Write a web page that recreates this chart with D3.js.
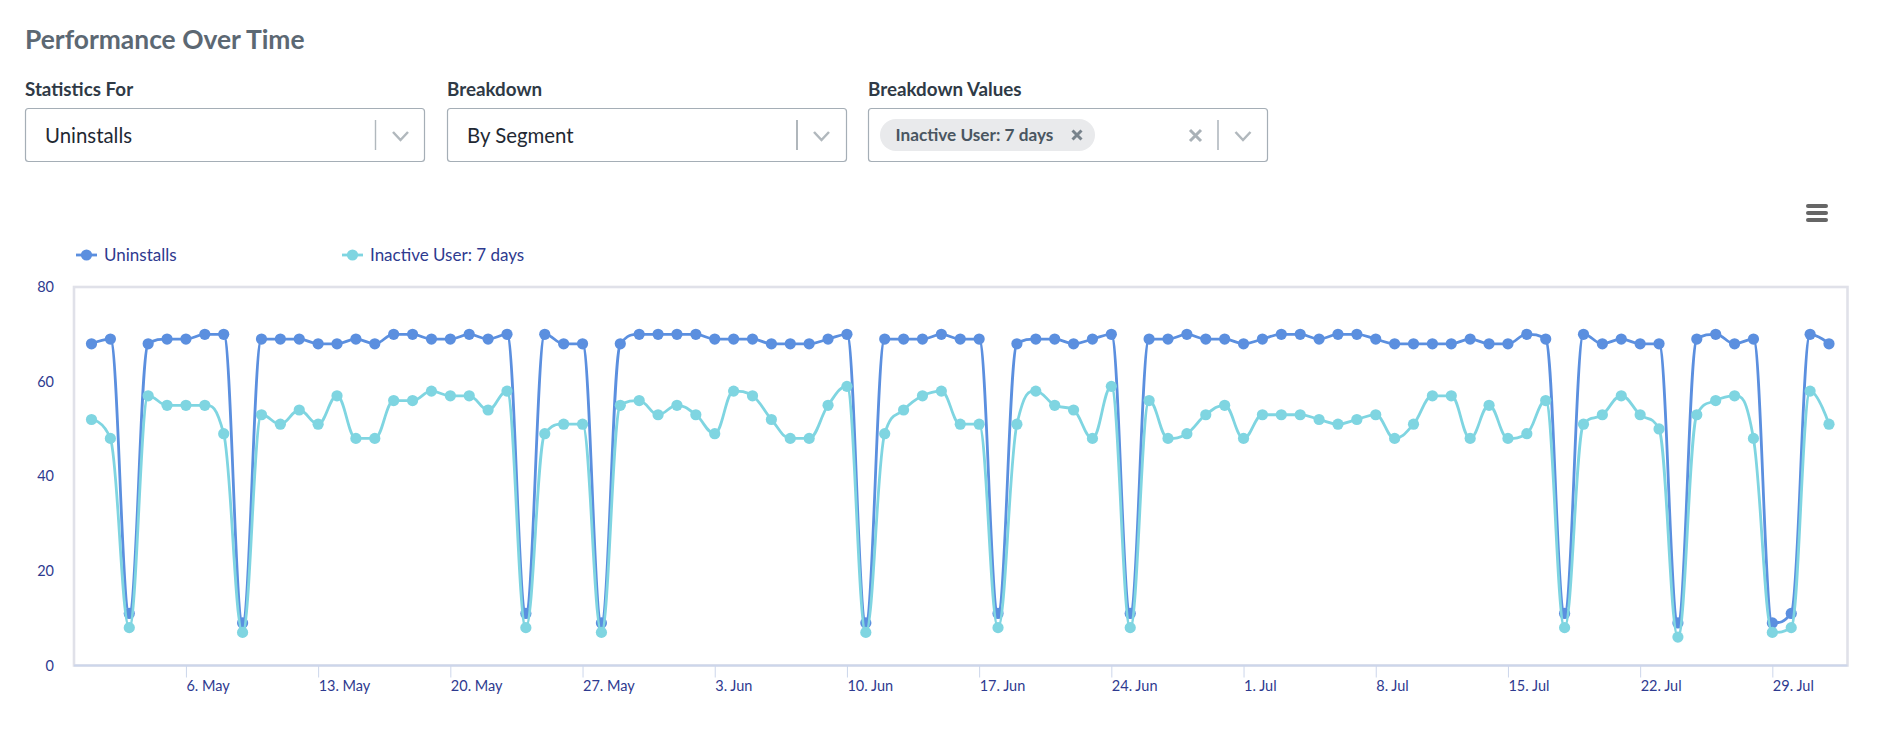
<!DOCTYPE html>
<html lang="en">
<head>
<meta charset="UTF-8">
<title>Performance Over Time</title>
<script src="https://cdn.jsdelivr.net/npm/d3@7"></script>
<style>
    html, body { margin: 0; padding: 0; background: #fff; }
    svg { display: block; }
    text { font-family: Lato, "Open Sans", sans-serif; }
    .axis text { font-size: 14.5px; fill: #2e3a8f; }
    .axis path { display: none; }
    .axis line { stroke: #ccd6eb; }
</style>
</head>
<body>
<script>

// one label per day, May to 1 Aug
var mayDays = d3.range(1, 32).map(function(d) { return "2019-05-" + d; });
var junDays = d3.range(1, 31).map(function(d) { return "2019-06-" + d; });
var julDays = d3.range(1, 32).map(function(d) { return "2019-07-" + d; });
var augDays = ["2019-08-1"];

var uninstalls = [
    68,69,11,68,69,69,70,70,9,69,69,69,68,68,69,68,70,70,69,69,70,69,70,11,70,68,68,9,68,70,70,
    70,70,69,69,69,68,68,68,69,70,9,69,69,69,70,69,69,11,68,69,69,68,69,70,11,69,69,70,69,69,
    68,69,70,70,69,70,70,69,68,68,68,68,69,68,68,70,69,11,70,68,69,68,68,9,69,70,68,69,9,11,70,
    68
];
var inactiveUser = [
    52,48,8,57,55,55,55,49,7,53,51,54,51,57,48,48,56,56,58,57,57,54,58,8,49,51,51,7,55,56,53,
    55,53,49,58,57,52,48,48,55,59,7,49,54,57,58,51,51,8,51,58,55,54,48,59,8,56,48,49,53,55,
    48,53,53,53,52,51,52,53,48,51,57,57,48,55,48,49,56,8,51,53,57,53,50,6,53,56,57,48,7,8,58,
    51
];

var xTickDays = ["2019-05-06","2019-05-13","2019-05-20","2019-05-27","2019-06-03","2019-06-10","2019-06-17",
    "2019-06-24","2019-07-01","2019-07-08","2019-07-15","2019-07-22","2019-07-29"];
var xTickLabels = ["6. May","13. May","20. May","27. May","3. Jun","10. Jun","17. Jun",
    "24. Jun","1. Jul","8. Jul","15. Jul","22. Jul","29. Jul"];
var yTicks = [0, 20, 40, 60, 80];

var seriesNames = ["Uninstalls", "Inactive User: 7 days"];
var seriesColors = ["#5b8fdf", "#7fd5e1"];

var parseDay = d3.timeParse("%Y-%m-%d");
var days = mayDays.concat(junDays, julDays, augDays).map(parseDay);

var svg = d3.select("body").append("svg").attr("width", 1880).attr("height", 740);

// ---- header and dropdowns ----
svg.append("text").attr("x", 25).attr("y", 49)
    .style("font-size", "26.4px").style("font-weight", 700).attr("fill", "#5c6873")
    .text("Performance Over Time");

function chevron(cx) {
    svg.append("path")
        .attr("d", "M" + (cx - 7.5) + ",132 L" + cx + ",140 L" + (cx + 7.5) + ",132")
        .attr("fill", "none").attr("stroke", "#b1b8bd").attr("stroke-width", 2.5);
}

function dropdown(x, w, label, value, sepX, sepColor, chevX) {
    svg.append("text").attr("x", x).attr("y", 96)
        .style("font-size", "18.8px").style("font-weight", 700).attr("fill", "#2f3a46").text(label);
    svg.append("rect").attr("x", x + 0.5).attr("y", 108.5).attr("width", w).attr("height", 53).attr("rx", 3)
        .attr("fill", "#fff").attr("stroke", "#a5aeb6").attr("stroke-width", 1.2);
    if (value) {
        svg.append("text").attr("x", x + 20).attr("y", 143)
            .style("font-size", "20.4px").attr("fill", "#1f2933").text(value);
    }
    svg.append("line").attr("x1", sepX).attr("x2", sepX).attr("y1", 120).attr("y2", 150)
        .attr("stroke", sepColor).attr("stroke-width", 1.4);
    chevron(chevX);
}

dropdown(25, 399, "Statistics For", "Uninstalls", 375.5, "#b1b8bd", 400.5);
dropdown(447, 399, "Breakdown", "By Segment", 797, "#8f989f", 821.5);
dropdown(868, 399, "Breakdown Values", null, 1218, "#a5aeb6", 1243);

svg.append("rect").attr("x", 880).attr("y", 119).attr("width", 215).attr("height", 32).attr("rx", 16)
    .attr("fill", "#e9eaec");
svg.append("text").attr("x", 895.5).attr("y", 141)
    .style("font-size", "17.2px").style("font-weight", 700).attr("fill", "#4a5661")
    .text("Inactive User: 7 days");

function cross(cx, cy, r, color) {
    svg.append("path")
        .attr("d", "M" + (cx - r) + "," + (cy - r) + " L" + (cx + r) + "," + (cy + r) +
            " M" + (cx + r) + "," + (cy - r) + " L" + (cx - r) + "," + (cy + r))
        .attr("stroke", color).attr("stroke-width", 3);
}
cross(1077, 135, 4.5, "#78838c");
cross(1195.5, 135.5, 5.5, "#a9b1b7");

// ---- hamburger menu ----
svg.selectAll(".menuBar").data([206, 213, 220]).enter().append("line")
    .attr("class", "menuBar")
    .attr("x1", 1808).attr("x2", 1826)
    .attr("y1", function(d) { return d; }).attr("y2", function(d) { return d; })
    .attr("stroke", "#666").attr("stroke-width", 4).attr("stroke-linecap", "round");

// ---- legend ----
var legendX = [76, 342];
seriesNames.forEach(function(name, i) {
    var g = svg.append("g").attr("transform", "translate(" + legendX[i] + ",255)");
    g.append("line").attr("x1", 0).attr("x2", 21).attr("stroke", seriesColors[i]).attr("stroke-width", 2.8);
    g.append("circle").attr("cx", 10.5).attr("r", 5.6).attr("fill", seriesColors[i]);
    g.append("text").attr("x", 28).attr("y", 5.5)
        .style("font-size", "17px").attr("fill", "#2e3a8f").text(name);
});

// ---- plot ----
var plot = {left: 74, right: 1847.5, top: 287, bottom: 665.5};

var x = d3.scaleTime()
    .domain([days[0], days[days.length - 1]])
    .range([91.5, 1829]);
var y = d3.scaleLinear().domain([0, 80]).range([plot.bottom, plot.top]);

svg.append("rect")
    .attr("x", plot.left).attr("y", plot.top)
    .attr("width", plot.right - plot.left).attr("height", plot.bottom - plot.top)
    .attr("fill", "none").attr("stroke", "#e0e1e9").attr("stroke-width", 2.6);

svg.append("line")
    .attr("x1", plot.left).attr("x2", plot.right).attr("y1", plot.bottom).attr("y2", plot.bottom)
    .attr("stroke", "#ccd6eb").attr("stroke-width", 2);

var xAxis = d3.axisBottom(x)
    .tickValues(xTickDays.map(parseDay))
    .tickSize(12)
    .tickFormat(function(d, i) { return xTickLabels[i]; });

svg.append("g").attr("class", "axis x")
    .attr("transform", "translate(0," + plot.bottom + ")")
    .call(xAxis)
    .selectAll("text")
    .attr("text-anchor", "start").attr("x", 0).attr("y", 15).attr("dy", "0.71em");

var yAxis = d3.axisLeft(y).tickValues(yTicks).tickSize(0);

svg.append("g").attr("class", "axis y")
    .attr("transform", "translate(56,0)")
    .call(yAxis)
    .selectAll("text").attr("x", -2);

// rounded spline that flattens at local peaks instead of overshooting
function flatSpline(context) {
    var pts = [];
    return {
        areaStart: function() {},
        areaEnd: function() {},
        lineStart: function() { pts = []; },
        point: function(px, py) { pts.push([+px, +py]); },
        lineEnd: function() {
            var n = pts.length, smooth = 1.5, denom = 2.5;
            var lastRight = pts[0];
            context.moveTo(pts[0][0], pts[0][1]);
            for (var i = 1; i < n; i++) {
                var p = pts[i], prev = pts[i - 1];
                var left = p, right = p;
                if (i < n - 1) {
                    var next = pts[i + 1];
                    var lx = (smooth * p[0] + prev[0]) / denom, ly = (smooth * p[1] + prev[1]) / denom;
                    var rx = (smooth * p[0] + next[0]) / denom, ry = (smooth * p[1] + next[1]) / denom;
                    var corr = (ry - ly) * (rx - p[0]) / (rx - lx) + p[1] - ry;
                    ly += corr;
                    ry += corr;
                    if (ly > prev[1] && ly > p[1]) { ly = Math.max(prev[1], p[1]); ry = 2 * p[1] - ly; }
                    else if (ly < prev[1] && ly < p[1]) { ly = Math.min(prev[1], p[1]); ry = 2 * p[1] - ly; }
                    if (ry > next[1] && ry > p[1]) { ry = Math.max(next[1], p[1]); ly = 2 * p[1] - ry; }
                    else if (ry < next[1] && ry < p[1]) { ry = Math.min(next[1], p[1]); ly = 2 * p[1] - ry; }
                    left = [lx, ly];
                    right = [rx, ry];
                }
                context.bezierCurveTo(lastRight[0], lastRight[1], left[0], left[1], p[0], p[1]);
                lastRight = right;
            }
        }
    };
}

var line = d3.line()
    .x(function(d, i) { return x(days[i]); })
    .y(function(d) { return y(d); })
    .curve(flatSpline);

[uninstalls, inactiveUser].forEach(function(values, i) {
    var g = svg.append("g").attr("class", "series");
    g.append("path")
        .attr("d", line(values))
        .attr("fill", "none").attr("stroke", seriesColors[i]).attr("stroke-width", 2.8);
    g.selectAll("circle").data(values).enter().append("circle")
        .attr("cx", function(d, j) { return x(days[j]); })
        .attr("cy", function(d) { return y(d); })
        .attr("r", 5.6)
        .attr("fill", seriesColors[i]);
});

</script>
</body>
</html>
